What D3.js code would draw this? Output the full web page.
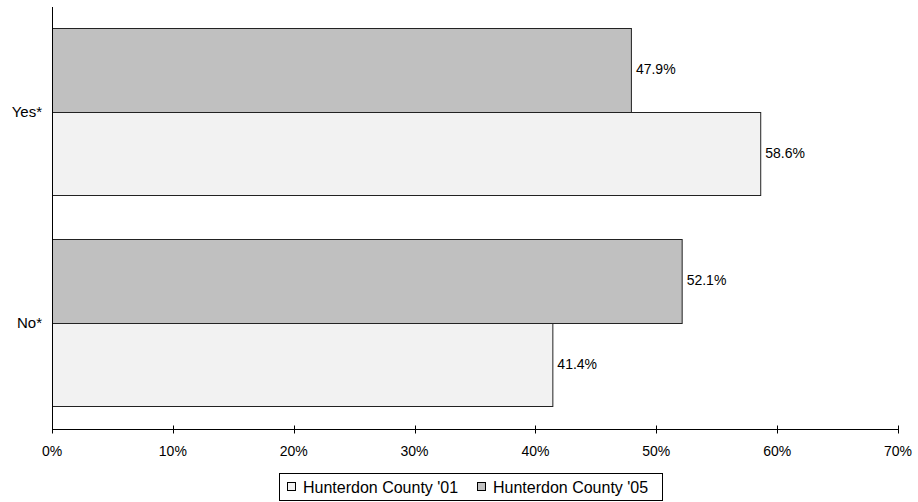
<!DOCTYPE html>
<html><head><meta charset="utf-8">
<script src="https://cdn.jsdelivr.net/npm/d3@7"></script>
<style>body{margin:0;background:#fff}svg{display:block;font-family:"Liberation Sans",Arial,sans-serif}</style>
</head><body><svg id="c" width="918" height="502"></svg>
<script>
const categories = ["Yes*", "No*"];
const seriesNames = ["Hunterdon County '05", "Hunterdon County '01"];
const values05 = [47.9, 52.1];
const values01 = [58.6, 41.4];
const xTicks = [0, 10, 20, 30, 40, 50, 60, 70];
const legendOrder = ["Hunterdon County '01", "Hunterdon County '05"];

const colors = {"Hunterdon County '01": "#f2f2f2", "Hunterdon County '05": "#c0c0c0"};
const svg = d3.select("#c");
const x = d3.scaleLinear().domain([0, 70]).range([52, 898]);
const y = d3.scaleBand().domain(categories).range([6, 428]).paddingInner(0.204).paddingOuter(0.102);
const sub = d3.scaleBand().domain(seriesNames).range([0, y.bandwidth()]);

const data = [];
categories.forEach((c, i) => {
  data.push({cat: c, s: seriesNames[0], v: values05[i]});
  data.push({cat: c, s: seriesNames[1], v: values01[i]});
});

svg.selectAll("rect.bar").data(data).join("rect").attr("class", "bar")
  .attr("x", x(0) + 0.5)
  .attr("y", d => Math.round(y(d.cat) + sub(d.s)) + 0.5)
  .attr("width", d => x(d.v) - x(0))
  .attr("height", d => Math.round(y(d.cat) + sub(d.s) + sub.bandwidth()) - Math.round(y(d.cat) + sub(d.s)))
  .attr("fill", d => colors[d.s])
  .attr("stroke", "#222").attr("stroke-width", 1);

svg.selectAll("text.val").data(data).join("text").attr("class", "val")
  .attr("x", d => x(d.v) + 5)
  .attr("y", d => y(d.cat) + sub(d.s) + sub.bandwidth() / 2)
  .attr("dy", "0.35em").attr("font-size", 14).attr("fill", "#000")
  .text(d => d.v.toFixed(1) + "%");

// y axis line
svg.append("line").attr("x1", 52.5).attr("x2", 52.5).attr("y1", 7).attr("y2", 433).attr("stroke", "#000");
// x axis
const xa = svg.append("g").attr("transform", "translate(0.5,429.5)");
xa.append("line").attr("x1", x(0)).attr("x2", x(70)).attr("stroke", "#000");
xa.selectAll("line.t").data(xTicks).join("line").attr("class", "t")
  .attr("x1", d => Math.round(x(d))).attr("x2", d => Math.round(x(d)))
  .attr("y1", d => d === 0 ? 0 : -4).attr("y2", 4).attr("stroke", "#000");
svg.selectAll("text.xt").data(xTicks).join("text").attr("class", "xt")
  .attr("x", d => x(d)).attr("y", 456).attr("text-anchor", "middle")
  .attr("font-size", 14).text(d => d + "%");

svg.selectAll("text.cat").data(categories).join("text").attr("class", "cat")
  .attr("x", 42).attr("y", d => y(d) + y.bandwidth() / 2)
  .attr("dy", "0.35em").attr("text-anchor", "end").attr("font-size", 15)
  .text(d => d);

// legend
const lg = svg.append("g");
lg.append("rect").attr("x", 279.5).attr("y", 473.5).attr("width", 383).attr("height", 27)
  .attr("fill", "#fff").attr("stroke", "#000");
const lx = [287, 477];
legendOrder.forEach((s, i) => {
  lg.append("rect").attr("x", lx[i] + 0.5).attr("y", 482.5).attr("width", 8).attr("height", 8)
    .attr("fill", colors[s]).attr("stroke", "#000");
  lg.append("text").attr("x", lx[i] + 16).attr("y", 487).attr("dy", "0.35em")
    .attr("font-size", 16).text(s);
});
</script></body></html>
